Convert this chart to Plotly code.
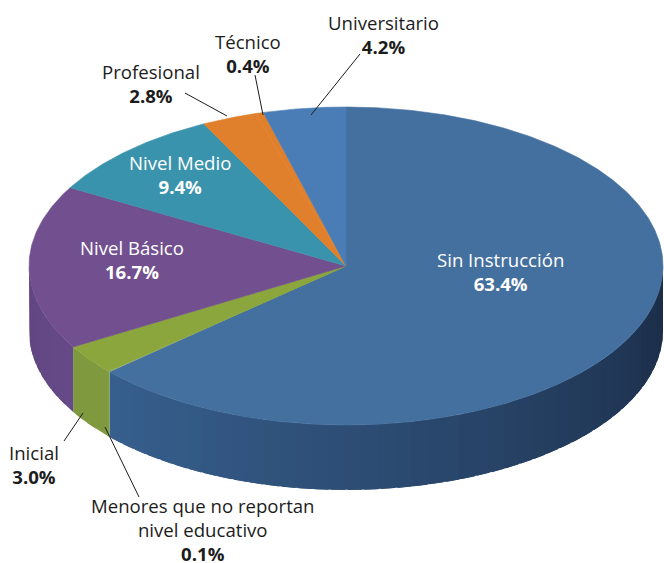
import numpy as np
import plotly.graph_objects as go

categories = ["Sin Instrucción", "Menores que no reportan<br>nivel educativo", "Inicial", "Nivel Básico",
              "Nivel Medio", "Profesional", "Técnico", "Universitario"]
values = [63.4, 0.1, 3.0, 16.7, 9.4, 2.8, 0.4, 4.2]
top_colors = ["#44709f", "#8aa63c", "#8aa63c", "#72508f", "#3a93ad", "#e1802c", "#e1802c", "#4a7db6"]
wall_left = ["#37608f", "#7f9a3e", "#7f9a3e", "#5f4580", "#2f7a90", "#b86a25", "#b86a25", "#3a6696"]
wall_right = ["#1a2b45", "#7f9a3e", "#7f9a3e", "#664a88", "#2f7a90", "#b86a25", "#b86a25", "#3a6696"]
text_colors = ["white", "#1c1c1c", "#1c1c1c", "white", "white", "#1c1c1c", "#1c1c1c", "#1c1c1c"]
label_pos = [(500, 271.5), (203, 529), (34, 464), (132, 259), (180, 174), (151, 83), (248, 53), (383, 34)]
leaders = [None, ((105, 427), (139, 497)), ((83, 413), (64, 441)), None, None,
           ((227, 116), (185, 93)), ((263, 115), (255, 75)), ((311, 115), (360, 54))]

W, H = 664, 563
CX, CY, RX, RY, DEPTH = 346, 266, 317, 159, 65


def rim(deg):
    a = np.radians(deg)
    return CX + RX * np.sin(a), CY - RY * np.cos(a)


def hex_rgb(c):
    return np.array([int(c[i:i + 2], 16) for i in (1, 3, 5)], dtype=float)


def mix(a, b, t):
    r = hex_rgb(a) * (1 - t) + hex_rgb(b) * t
    return "rgb(%d,%d,%d)" % tuple(r.round().astype(int))


fig = go.Figure()


def poly(xs, ys, color, width=0.6):
    fig.add_trace(go.Scatter(x=xs, y=ys, mode="lines", fill="toself", fillcolor=color,
                             line=dict(color=color, width=width), hoverinfo="skip", showlegend=False))


edges = np.concatenate([[0], np.cumsum(values)]) * 3.6

# side wall: only the part facing the viewer (90..270 degrees clockwise from the top)
for i in range(len(values)):
    lo, hi = max(edges[i], 90), min(edges[i + 1], 270)
    if hi <= lo:
        continue
    n = max(2, int((hi - lo) / 3))
    steps = np.linspace(lo, hi, n + 1)
    for j in range(n):
        t = 1 - (j + 0.5) / n
        arc = np.linspace(steps[j], min(hi, steps[j + 1] + 2.5), 6)
        px, py = rim(arc)
        xs = np.concatenate([px, px[::-1]])
        ys = np.concatenate([py, py[::-1] + DEPTH])
        poly(xs, ys, mix(wall_left[i], wall_right[i], t), width=0)

# top face
for i in range(len(values)):
    n = max(3, int((edges[i + 1] - edges[i]) * 2))
    px, py = rim(np.linspace(edges[i], edges[i + 1], n))
    poly(np.concatenate([[CX], px, [CX]]), np.concatenate([[CY], py, [CY]]), top_colors[i])

shapes = []
for seg in leaders:
    if seg:
        (x0, y0), (x1, y1) = seg
        shapes.append(dict(type="line", x0=x0, y0=y0, x1=x1, y1=y1, xref="x", yref="y",
                           line=dict(color="#1c1c1c", width=1)))

annotations = []
for cat, val, col, (x, y) in zip(categories, values, text_colors, label_pos):
    annotations.append(dict(x=x, y=y, xref="x", yref="y", showarrow=False,
                            text=f"{cat}<br><b>{val:.1f}%</b>", align="center",
                            xanchor="center", yanchor="middle",
                            font=dict(family="Open Sans", size=18.6, color=col)))

fig.update_layout(
    width=W, height=H, margin=dict(l=0, r=0, t=0, b=0), autosize=False,
    paper_bgcolor="white", plot_bgcolor="white", showlegend=False,
    xaxis=dict(range=[0, W], visible=False, fixedrange=True),
    yaxis=dict(range=[H, 0], visible=False, fixedrange=True),
    shapes=shapes, annotations=annotations,
)
fig.write_html("out.html", config={"displayModeBar": False},
               post_script="document.body.style.margin='0';document.body.style.overflow='hidden';")
